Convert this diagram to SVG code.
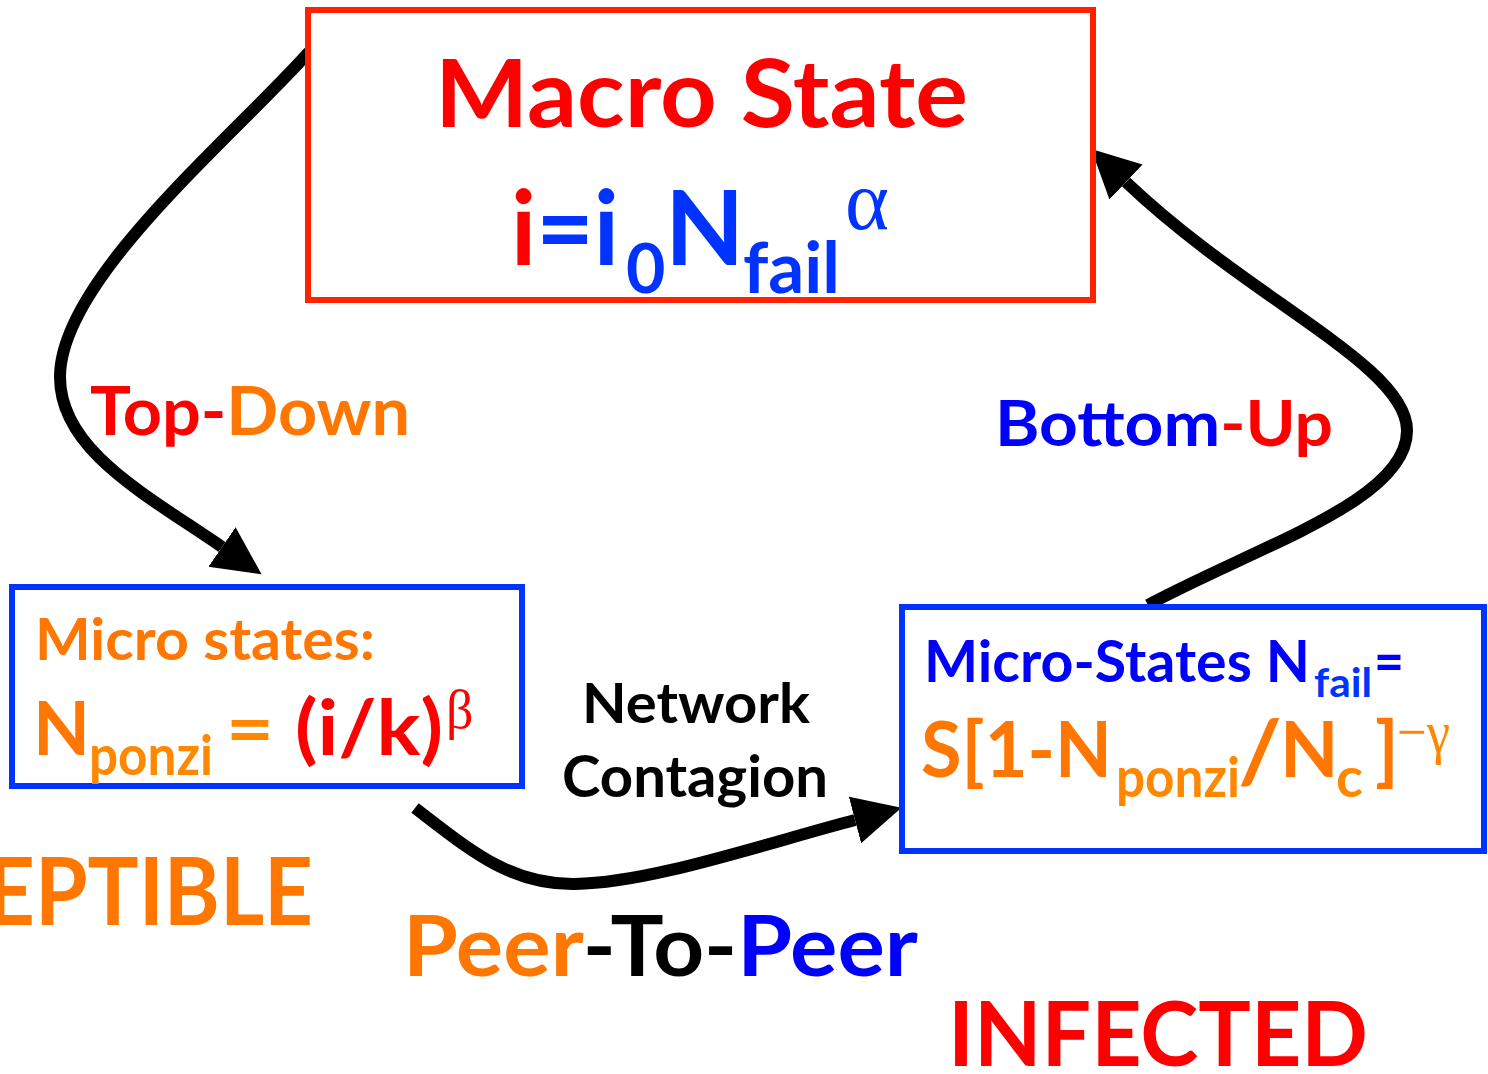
<svg xmlns="http://www.w3.org/2000/svg" width="1488" height="1074" viewBox="0 0 1488 1074">
  <style>
    text { font-family: Lato, "Open Sans", "Liberation Sans", sans-serif; font-weight: 700; }
    .greek { font-family: "Liberation Serif", "DejaVu Serif", serif; font-weight: 400; }
    .red { fill: #ff0000; }
    .orange { fill: #ff7700; }
    .orange2 { fill: #ff8800; }
    .blue { fill: #0000ff; }
    .blue2 { fill: #0033ff; }
    .black { fill: #000000; }
    .box-macro { fill: #ffffff; stroke: #ff2200; stroke-width: 6; }
    .box-micro { fill: #ffffff; stroke: #0033ff; stroke-width: 6; }
    .link { fill: none; stroke: #000000; stroke-width: 12; marker-end: url(#head); }
  </style>
  <defs>
    <marker id="head" markerUnits="userSpaceOnUse" viewBox="0 -26 50 52" refX="0" refY="0" markerWidth="50" markerHeight="52" orient="auto">
      <path d="M0,-24 L48,0 L0,24 Z" fill="#000000"/>
    </marker>
  </defs>
  <rect width="1488" height="1074" fill="#ffffff"/>

  <!-- connectors -->
  <g id="connectors">
    <path id="top-down" class="link" d="M309,52 C230,140 60,280 60,377 C60,450 145,494 222,547"/>
    <path id="peer-to-peer" class="link" d="M415,808 C470,850 510,885 575,884 C650,883 760,845 855,820"/>
    <path id="bottom-up" class="link" d="M1148,605 C1260,545 1408,500 1407,430 C1406,365 1250,300 1126,182"/>
  </g>

  <!-- macro state box -->
  <g id="macro-state">
    <rect class="box-macro" x="308" y="10" width="785" height="290"/>
    <text class="red" x="435" y="127" font-size="93" textLength="533" lengthAdjust="spacingAndGlyphs">Macro State</text>
    <text x="511" y="265" font-size="103" textLength="108" lengthAdjust="spacingAndGlyphs"><tspan class="red">i</tspan><tspan class="blue2">=i</tspan></text>
    <text class="blue2" x="626" y="293" font-size="68">0</text>
    <text class="blue2" x="665" y="265" font-size="103">N</text>
    <text class="blue2" x="743" y="293" font-size="70" textLength="97" lengthAdjust="spacingAndGlyphs">fail</text>
    <text class="blue2 greek" x="845" y="229" font-size="84">α</text>
  </g>

  <!-- micro states (susceptible side) -->
  <g id="micro-states-left">
    <rect class="box-micro" x="12" y="587" width="510" height="199"/>
    <text class="orange" x="35" y="660" font-size="57" textLength="340" lengthAdjust="spacingAndGlyphs">Micro states:</text>
    <text class="orange" x="33" y="755" font-size="74">N</text>
    <text class="orange2" x="89" y="775" font-size="56" textLength="124" lengthAdjust="spacingAndGlyphs">ponzi</text>
    <text class="orange2" x="226" y="755" font-size="74" textLength="48" lengthAdjust="spacingAndGlyphs">=</text>
    <text class="red" x="295" y="755" font-size="76" textLength="148" lengthAdjust="spacingAndGlyphs">(i/k)</text>
    <text class="red greek" x="446" y="728" font-size="54">β</text>
  </g>

  <!-- micro states (infected side) -->
  <g id="micro-states-right">
    <rect class="box-micro" x="902" y="607" width="582" height="244"/>
    <text class="blue" x="924" y="682" font-size="58" textLength="386" lengthAdjust="spacingAndGlyphs">Micro-States N</text>
    <text class="blue2" x="1314" y="697" font-size="41" textLength="58" lengthAdjust="spacingAndGlyphs">fail</text>
    <text class="blue" x="1374" y="682" font-size="58" textLength="30" lengthAdjust="spacingAndGlyphs">=</text>
    <text class="orange" x="921" y="777" font-size="76" textLength="191" lengthAdjust="spacingAndGlyphs">S[1-N</text>
    <text class="orange2" x="1116" y="797" font-size="56" textLength="124" lengthAdjust="spacingAndGlyphs">ponzi</text>
    <text class="orange" x="1238" y="782" font-size="86" textLength="44" lengthAdjust="spacingAndGlyphs">/</text>
    <text class="orange" x="1280" y="777" font-size="76">N</text>
    <text class="orange2" x="1336" y="797" font-size="56">c</text>
    <text class="orange" x="1375" y="777" font-size="76">]</text>
    <text class="orange2 greek" x="1397" y="752" font-size="60" textLength="53" lengthAdjust="spacingAndGlyphs">−γ</text>
  </g>

  <!-- labels -->
  <g id="label-top-down">
    <text x="90" y="435" font-size="66" textLength="320" lengthAdjust="spacingAndGlyphs"><tspan class="red">Top-</tspan><tspan class="orange">Down</tspan></text>
  </g>
  <g id="label-bottom-up">
    <text x="995" y="446" font-size="63" textLength="338" lengthAdjust="spacingAndGlyphs"><tspan class="blue">Bottom</tspan><tspan class="red">-Up</tspan></text>
  </g>
  <g id="label-network-contagion">
    <text class="black" x="582" y="723" font-size="56" textLength="228" lengthAdjust="spacingAndGlyphs">Network</text>
    <text class="black" x="562" y="797" font-size="58" textLength="266" lengthAdjust="spacingAndGlyphs">Contagion</text>
  </g>
  <g id="label-peer-to-peer">
    <text x="403" y="976" font-size="84" textLength="515" lengthAdjust="spacingAndGlyphs"><tspan class="orange">Peer</tspan><tspan class="black">-To-</tspan><tspan class="blue">Peer</tspan></text>
  </g>
  <g id="label-susceptible">
    <text class="orange" x="-14" y="925" font-size="93" textLength="327" lengthAdjust="spacingAndGlyphs">EPTIBLE</text>
  </g>
  <g id="label-infected">
    <text class="red" x="948" y="1066" font-size="90" textLength="420" lengthAdjust="spacingAndGlyphs">INFECTED</text>
  </g>
</svg>
